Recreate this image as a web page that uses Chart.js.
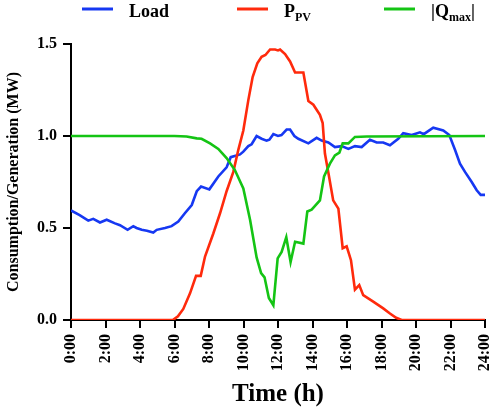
<!DOCTYPE html>
<html>
<head>
<meta charset="utf-8">
<script src="https://cdn.jsdelivr.net/npm/chart.js@4/dist/chart.umd.min.js"></script>
<style>
body { margin: 0; background: #fff; }
#wrap { width: 491px; height: 414px; }
</style>
</head>
<body>
<div id="wrap"><canvas id="myChart" width="491" height="414"></canvas></div>
<script>

// Load (MW)
var loadHours = [0, 0.5, 1.0, 1.29, 1.68, 2.07, 2.55, 2.84, 3.28, 3.61, 3.8, 4.1, 4.4, 4.77, 4.97, 5.45, 5.83, 6.22, 6.6, 7.0, 7.29, 7.54, 8.02, 8.54, 9.02, 9.26, 9.8, 9.99, 10.28, 10.47, 10.76, 11.05, 11.34, 11.5, 11.73, 12.0, 12.2, 12.5, 12.7, 12.95, 13.18, 13.76, 14.24, 14.53, 14.92, 15.3, 15.69, 16.08, 16.46, 16.85, 17.33, 17.72, 18.1, 18.49, 18.97, 19.26, 19.75, 20.23, 20.45, 21.0, 21.58, 21.93, 22.26, 22.55, 22.84, 23.23, 23.52, 23.75, 24];
var loadMW = [0.595, 0.57, 0.54, 0.55, 0.53, 0.545, 0.525, 0.515, 0.49, 0.51, 0.50, 0.49, 0.485, 0.475, 0.49, 0.50, 0.51, 0.535, 0.58, 0.625, 0.70, 0.725, 0.71, 0.78, 0.83, 0.885, 0.90, 0.915, 0.945, 0.955, 1.00, 0.985, 0.975, 0.98, 1.01, 1.00, 1.005, 1.035, 1.035, 1.00, 0.985, 0.96, 0.99, 0.975, 0.965, 0.94, 0.945, 0.93, 0.945, 0.94, 0.98, 0.965, 0.965, 0.95, 0.985, 1.015, 1.005, 1.02, 1.01, 1.045, 1.03, 1.005, 0.925, 0.85, 0.805, 0.75, 0.705, 0.68, 0.68];

// PV generation (MW)
var pvHours = [0, 5.9, 6.2, 6.51, 6.9, 7.25, 7.52, 7.77, 8.25, 8.64, 9.02, 9.41, 9.7, 9.99, 10.28, 10.53, 10.8, 11.05, 11.27, 11.54, 11.83, 12.0, 12.12, 12.41, 12.7, 12.99, 13.47, 13.76, 14.05, 14.43, 14.59, 14.72, 14.92, 15.2, 15.5, 15.75, 15.98, 16.23, 16.46, 16.71, 16.94, 17.52, 18.1, 18.49, 18.85, 19.17, 24];
var pvMW = [0, 0, 0.02, 0.06, 0.145, 0.24, 0.24, 0.345, 0.47, 0.58, 0.70, 0.805, 0.925, 1.03, 1.195, 1.32, 1.395, 1.43, 1.44, 1.47, 1.47, 1.465, 1.47, 1.445, 1.405, 1.345, 1.345, 1.19, 1.17, 1.115, 1.07, 0.905, 0.80, 0.65, 0.605, 0.39, 0.40, 0.325, 0.165, 0.19, 0.135, 0.10, 0.063, 0.035, 0.012, 0, 0];

// |Qmax| (MW)
var qHours = [0, 6.0, 6.7, 7.29, 7.57, 8.06, 8.54, 9.02, 9.5, 9.99, 10.38, 10.76, 11.02, 11.22, 11.47, 11.73, 11.98, 12.21, 12.48, 12.73, 12.99, 13.47, 13.7, 13.95, 14.43, 14.67, 15.01, 15.3, 15.56, 15.75, 16.08, 16.46, 17.14, 24];
var qMW = [1.0, 1.0, 0.997, 0.987, 0.985, 0.96, 0.93, 0.88, 0.815, 0.715, 0.545, 0.34, 0.255, 0.232, 0.12, 0.08, 0.335, 0.37, 0.45, 0.315, 0.425, 0.415, 0.59, 0.60, 0.65, 0.78, 0.85, 0.895, 0.91, 0.96, 0.96, 0.995, 0.997, 1.0];

var BLUE = '#1638f2';
var RED = '#ff2a0c';
var GREEN = '#14c414';
var FONT = '"Liberation Serif", "Times New Roman", serif';

function pts(xs, ys) {
    return xs.map(function(x, i) { return {x: x, y: ys[i]}; });
}

// legend with subscripts, drawn by hand
var legendItems = [
    {color: BLUE, x: 82, main: 'Load', sub: '', tail: ''},
    {color: RED, x: 237, main: 'P', sub: 'PV', tail: ''},
    {color: GREEN, x: 384, main: '|Q', sub: 'max', tail: '|'}
];

var legendPlugin = {
    id: 'subLegend',
    afterDraw: function(chart) {
        var c = chart.ctx;
        c.save();
        legendItems.forEach(function(it) {
            c.strokeStyle = it.color;
            c.lineWidth = 3;
            c.beginPath();
            c.moveTo(it.x, 9);
            c.lineTo(it.x + 31, 9);
            c.stroke();

            var tx = it.x + 47;
            c.fillStyle = '#000';
            c.textBaseline = 'alphabetic';
            c.font = 'bold 18px ' + FONT;
            c.fillText(it.main, tx, 17);
            tx += c.measureText(it.main).width;
            if (it.sub) {
                c.font = 'bold 12px ' + FONT;
                c.fillText(it.sub, tx, 21);
                tx += c.measureText(it.sub).width;
            }
            if (it.tail) {
                c.font = 'bold 18px ' + FONT;
                c.fillText(it.tail, tx, 17);
            }
        });
        c.restore();
    }
};

var ctx = document.getElementById('myChart').getContext('2d');
var chart = new Chart(ctx, {
    type: 'line',
    data: {
        datasets: [{
            label: 'Load',
            data: pts(loadHours, loadMW),
            borderColor: BLUE,
            order: 3
        },
        {
            label: 'PPV',
            data: pts(pvHours, pvMW),
            borderColor: RED,
            order: 2
        },
        {
            label: '|Qmax|',
            data: pts(qHours, qMW),
            borderColor: GREEN,
            order: 1
        }]
    },
    options: {
        responsive: false,
        animation: false,
        layout: { padding: { top: 44, right: 6, left: 0, bottom: 0 } },
        elements: {
            point: { radius: 0 },
            line: { borderWidth: 2.6, tension: 0, fill: false }
        },
        plugins: {
            legend: { display: false },
            tooltip: { enabled: false }
        },
        scales: {
            x: {
                type: 'linear',
                min: 0,
                max: 24,
                afterFit: function(s) {
                    s.height = 94;
                    s.paddingLeft = 0;
                    s.paddingRight = 0;
                },
                ticks: {
                    stepSize: 2,
                    autoSkip: false,
                    maxRotation: 90,
                    minRotation: 90,
                    padding: 6,
                    color: '#000',
                    font: { family: FONT, size: 16, weight: 'bold' },
                    callback: function(v) { return v + ':00'; }
                },
                grid: { drawOnChartArea: false, tickLength: 8, color: '#000', lineWidth: 2 },
                border: { color: '#000', width: 2 },
                title: {
                    display: true,
                    text: 'Time (h)',
                    color: '#000',
                    font: { family: FONT, size: 25, weight: 'bold' },
                    padding: { top: 0, bottom: 4 }
                }
            },
            y: {
                min: 0,
                max: 1.5,
                afterFit: function(s) {
                    s.width = 71;
                    s.paddingTop = 0;
                    s.paddingBottom = 0;
                },
                ticks: {
                    stepSize: 0.5,
                    padding: 6,
                    color: '#000',
                    font: { family: FONT, size: 16, weight: 'bold' },
                    callback: function(v) { return v.toFixed(1); }
                },
                grid: { drawOnChartArea: false, tickLength: 8, color: '#000', lineWidth: 2 },
                border: { color: '#000', width: 2 },
                title: {
                    display: true,
                    text: 'Consumption/Generation (MW)',
                    color: '#000',
                    font: { family: FONT, size: 16, weight: 'bold' },
                    padding: { top: 4, bottom: 0 }
                }
            }
        }
    },
    plugins: [legendPlugin]
});

</script>
</body>
</html>
